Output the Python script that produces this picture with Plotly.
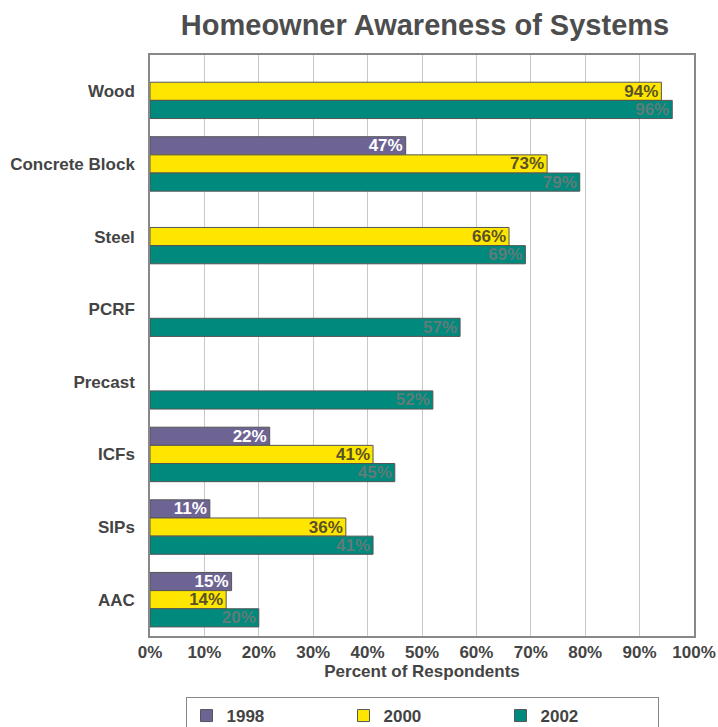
import plotly.graph_objects as go

categories = ["Wood", "Concrete Block", "Steel", "PCRF", "Precast", "ICFs", "SIPs", "AAC"]
series_names = ["1998", "2000", "2002"]
values_1998 = [None, 47, None, None, None, 22, 11, 15]
values_2000 = [94, 73, 66, None, None, 41, 36, 14]
values_2002 = [96, 79, 69, 57, 52, 45, 41, 20]
x_ticks = [0, 10, 20, 30, 40, 50, 60, 70, 80, 90, 100]
x_tick_labels = [f"{t}%" for t in x_ticks]

colors = ["#6e6494", "#ffe600", "#00897d"]
text_colors = ["#ffffff", "#5a5226", "#5f7c78"]
FONT = "Liberation Sans, Arial, sans-serif"
FS = 17

fig = go.Figure()
for name, vals, col, tcol in zip(series_names, [values_1998, values_2000, values_2002], colors, text_colors):
    labels = [f"<b>{v}%</b>" if v is not None else "" for v in vals]
    fig.add_trace(go.Bar(
        y=categories, x=vals, name=f"<b>{name}</b>", orientation="h",
        marker=dict(color=col, line=dict(color="#555555", width=1)),
        text=labels, texttemplate="%{text}", textposition="inside", insidetextanchor="end",
        textangle=0, constraintext="none",
        textfont=dict(family=FONT, size=FS, color=tcol),
        hoverinfo="x+y",
    ))

W, H = 718, 727
ML, MR, MT, MB = 150, 24, 55, 91
plot_h = H - MT - MB
fig.update_layout(
    width=W, height=H,
    margin=dict(l=ML, r=MR, t=MT, b=MB, autoexpand=False),
    paper_bgcolor="white", plot_bgcolor="white",
    barmode="group", bargap=0.25, bargroupgap=0,
    title=dict(text="<b>Homeowner Awareness of Systems</b>", x=425 / W, xanchor="center",
               y=1 - 25 / H, yanchor="middle",
               font=dict(family=FONT, size=29, color="#4d4d4d")),
    font=dict(family=FONT, color="#444444"),
    showlegend=True,
    legend=dict(orientation="h", x=0.5, xanchor="center", y=-61 / plot_h, yanchor="top",
                bordercolor="#888888", borderwidth=1, entrywidth=112,
                font=dict(family=FONT, size=FS, color="#444444"),
                traceorder="normal"),
)
fig.update_xaxes(range=[0, 100], tickvals=x_ticks, ticktext=[f"<b>{t}</b>" for t in x_tick_labels],
                 showgrid=True, gridcolor="#c8c8c8", gridwidth=1,
                 showline=True, linecolor="#888888", linewidth=1.5, mirror=True,
                 tickfont=dict(family=FONT, size=FS, color="#444444"),
                 title=dict(text="<b>Percent of Respondents</b>", standoff=0,
                            font=dict(family=FONT, size=FS, color="#444444")),
                 zeroline=False, fixedrange=True)
fig.update_yaxes(autorange="reversed", ticktext=[f"<b>{c}</b>" for c in categories], tickvals=categories,
                 showline=True, linecolor="#888888", linewidth=1.5, mirror=True,
                 tickfont=dict(family=FONT, size=FS, color="#444444"),
                 ticks="", ticklabelstandoff=10, fixedrange=True)

fig.write_html("out.html", config={"displayModeBar": False},
               post_script="document.body.style.margin='0';document.body.style.overflow='hidden';")
